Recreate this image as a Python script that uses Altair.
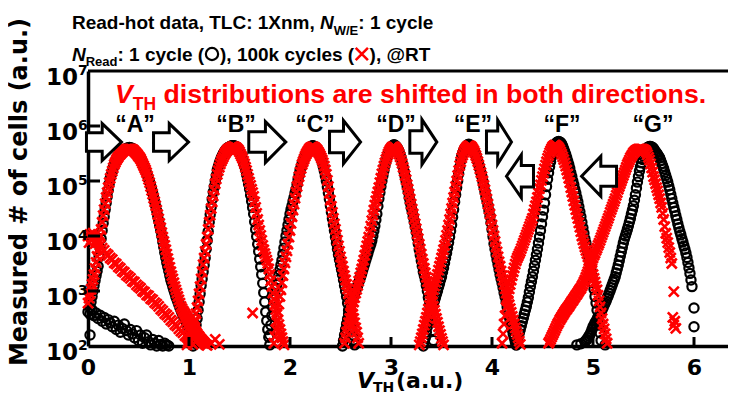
import altair as alt
import pandas as pd

# Each measured distribution: (start V, V step, log10(# of cells))

# ---------- N_Read = 1 cycle (black circles) ----------
blk_er = (0.00, 0.02, [2.62, 2.58, 2.66, 2.55, 2.60, 2.50, 2.56, 2.45, 2.52, 2.40, 2.48, 2.42, 2.35,
                       2.45, 2.30, 2.38, 2.25, 2.32, 2.40, 2.28, 2.20, 2.30, 2.22, 2.15, 2.28, 2.10,
                       2.20, 2.05, 2.15, 2.20, 2.08, 2.02, 2.12, 2.05, 2.00, 2.10, 2.03, 2.00, 2.05,
                       2.02, 2.00])
blk_a = (0.02, 0.01, [2.70, 2.80, 2.90, 3.00, 3.10, 3.19, 3.28, 3.36, 3.45, 3.62,
                      3.78, 3.95, 4.10, 4.23, 4.35, 4.48, 4.60, 4.72, 4.83, 4.95,
                      5.05, 5.11, 5.17, 5.24, 5.30, 5.34, 5.38, 5.42, 5.45, 5.48,
                      5.50, 5.52, 5.54, 5.56, 5.57, 5.58, 5.59, 5.60, 5.60, 5.61,
                      5.60, 5.60, 5.59, 5.58, 5.56, 5.54, 5.52, 5.50, 5.47, 5.45,
                      5.42, 5.38, 5.33, 5.29, 5.24, 5.19, 5.14, 5.09, 5.03, 4.98,
                      4.92, 4.85, 4.78, 4.70, 4.62, 4.54, 4.46, 4.37, 4.28, 4.19,
                      4.10, 4.00, 3.90, 3.80, 3.70, 3.61, 3.52, 3.44, 3.36, 3.28,
                      3.20, 3.14, 3.08, 3.02, 2.96, 2.90, 2.85, 2.80, 2.75, 2.70,
                      2.65, 2.61, 2.57, 2.53, 2.49, 2.45, 2.40, 2.35, 2.30, 2.25,
                      2.20, 2.16, 2.12, 2.08, 2.05])
blk_b = (1.04, 0.01, [2.00, 2.12, 2.25, 2.38, 2.50, 2.65, 2.80, 2.95, 3.10, 3.22,
                      3.35, 3.47, 3.60, 3.76, 3.92, 4.08, 4.25, 4.39, 4.53, 4.67,
                      4.80, 4.90, 5.00, 5.10, 5.20, 5.26, 5.32, 5.37, 5.42, 5.46,
                      5.50, 5.53, 5.56, 5.58, 5.60, 5.61, 5.62, 5.63, 5.64, 5.64,
                      5.64, 5.64, 5.63, 5.62, 5.60, 5.57, 5.53, 5.49, 5.45, 5.39,
                      5.33, 5.27, 5.20, 5.12, 5.03, 4.94, 4.85, 4.74, 4.63, 4.52,
                      4.40, 4.26, 4.12, 3.99, 3.85, 3.72, 3.58, 3.44, 3.30, 3.14,
                      2.97, 2.80, 2.62, 2.46, 2.30, 2.16, 2.02])
blk_c = (1.80, 0.01, [2.20, 2.38, 2.55, 2.70, 2.85, 2.95, 3.05, 3.12, 3.20, 3.29,
                      3.38, 3.47, 3.56, 3.67, 3.78, 3.89, 4.00, 4.10, 4.20, 4.30,
                      4.40, 4.48, 4.55, 4.63, 4.70, 4.78, 4.85, 4.94, 5.03, 5.12,
                      5.20, 5.26, 5.32, 5.37, 5.42, 5.46, 5.50, 5.54, 5.57, 5.59,
                      5.61, 5.63, 5.64, 5.64, 5.63, 5.62, 5.60, 5.57, 5.53, 5.49,
                      5.45, 5.39, 5.33, 5.26, 5.18, 5.09, 5.00, 4.89, 4.78, 4.67,
                      4.55, 4.43, 4.32, 4.21, 4.10, 3.98, 3.87, 3.76, 3.66, 3.57,
                      3.48, 3.39, 3.30, 3.20, 3.10, 3.00, 2.90, 2.78, 2.65, 2.53,
                      2.42, 2.31, 2.20, 2.11, 2.02])
blk_d = (2.52, 0.01, [2.00, 2.10, 2.20, 2.30, 2.40, 2.49, 2.58, 2.67, 2.75, 2.80,
                      2.85, 2.90, 2.95, 3.00, 3.05, 3.10, 3.15, 3.20, 3.26, 3.32,
                      3.38, 3.44, 3.50, 3.56, 3.62, 3.68, 3.74, 3.80, 3.85, 3.92,
                      4.00, 4.09, 4.18, 4.29, 4.40, 4.54, 4.68, 4.79, 4.90, 5.00,
                      5.10, 5.19, 5.28, 5.35, 5.42, 5.48, 5.53, 5.57, 5.61, 5.63,
                      5.65, 5.66, 5.65, 5.63, 5.61, 5.57, 5.53, 5.48, 5.42, 5.34,
                      5.26, 5.17, 5.08, 4.99, 4.90, 4.80, 4.70, 4.61, 4.52, 4.44,
                      4.35, 4.26, 4.17, 4.07, 3.97, 3.86, 3.75, 3.65, 3.55, 3.45,
                      3.35, 3.28, 3.20, 3.10, 3.00, 2.88, 2.75, 2.60, 2.45, 2.28,
                      2.10])
blk_e = (3.32, 0.01, [2.00, 2.07, 2.15, 2.25, 2.35, 2.43, 2.50, 2.56, 2.62, 2.69,
                      2.75, 2.82, 2.88, 2.94, 3.00, 3.07, 3.13, 3.20, 3.26, 3.34,
                      3.42, 3.51, 3.60, 3.69, 3.78, 3.88, 3.98, 4.09, 4.20, 4.34,
                      4.48, 4.62, 4.75, 4.88, 5.00, 5.13, 5.25, 5.36, 5.45, 5.51,
                      5.56, 5.59, 5.62, 5.64, 5.66, 5.67, 5.66, 5.64, 5.62, 5.59,
                      5.56, 5.52, 5.47, 5.41, 5.35, 5.29, 5.22, 5.15, 5.08, 4.99,
                      4.90, 4.81, 4.72, 4.64, 4.55, 4.46, 4.36, 4.24, 4.12, 3.99,
                      3.86, 3.76, 3.66, 3.57, 3.48, 3.39, 3.30, 3.22, 3.14, 3.06,
                      2.97, 2.89, 2.80, 2.71, 2.62, 2.53, 2.45, 2.37, 2.30, 2.22,
                      2.15, 2.08, 2.02])
blk_f = (4.24, 0.01, [2.02, 2.09, 2.16, 2.23, 2.30, 2.37, 2.44, 2.51, 2.58, 2.65,
                      2.72, 2.80, 2.88, 2.98, 3.08, 3.17, 3.26, 3.36, 3.46, 3.56,
                      3.66, 3.76, 3.87, 3.98, 4.10, 4.22, 4.35, 4.47, 4.60, 4.75,
                      4.90, 5.03, 5.15, 5.26, 5.35, 5.44, 5.52, 5.58, 5.63, 5.67,
                      5.70, 5.71, 5.72, 5.71, 5.70, 5.67, 5.63, 5.58, 5.53, 5.48,
                      5.42, 5.36, 5.30, 5.23, 5.15, 5.08, 5.00, 4.93, 4.85, 4.78,
                      4.70, 4.62, 4.53, 4.44, 4.35, 4.25, 4.15, 4.05, 3.95, 3.87,
                      3.78, 3.69, 3.60, 3.49, 3.38, 3.27, 3.15, 3.03, 2.90, 2.78,
                      2.65, 2.52, 2.38, 2.24, 2.10])
blk_g = (4.92, 0.01, [2.08, 2.10, 2.12, 2.15, 2.18, 2.21, 2.25, 2.30, 2.35, 2.38,
                      2.42, 2.45, 2.48, 2.52, 2.55, 2.58, 2.62, 2.66, 2.70, 2.74,
                      2.78, 2.82, 2.87, 2.91, 2.96, 3.01, 3.06, 3.11, 3.16, 3.21,
                      3.26, 3.33, 3.40, 3.47, 3.55, 3.63, 3.71, 3.79, 3.87, 3.94,
                      4.00, 4.06, 4.12, 4.18, 4.25, 4.32, 4.40, 4.47, 4.55, 4.65,
                      4.75, 4.87, 4.98, 5.08, 5.18, 5.26, 5.33, 5.39, 5.45, 5.50,
                      5.55, 5.58, 5.61, 5.62, 5.63, 5.63, 5.62, 5.61, 5.59, 5.56,
                      5.53, 5.51, 5.48, 5.45, 5.42, 5.37, 5.32, 5.27, 5.22, 5.16,
                      5.10, 5.04, 4.98, 4.91, 4.84, 4.76, 4.68, 4.60, 4.52, 4.45,
                      4.37, 4.30, 4.22, 4.15, 4.08, 4.02, 3.95, 3.89, 3.82, 3.76,
                      3.69, 3.61, 3.52, 3.42, 3.32, 3.20, 3.08])
blk_extra_v = [0.02, 6.00, 6.00, 4.84, 4.88, 5.12]
blk_extra = [2.20, 2.69, 2.35, 2.02, 2.04, 2.02]

# ---------- N_Read = 100k cycles (red crosses) ----------
red_er = (0.00, 0.02, [4.00, 4.03, 3.97, 3.98, 3.92, 3.90, 3.83, 3.78, 3.74, 3.68, 3.65, 3.60, 3.57,
                       3.51, 3.49, 3.44, 3.41, 3.36, 3.34, 3.29, 3.26, 3.23, 3.18, 3.16, 3.11, 3.08,
                       3.05, 3.00, 2.98, 2.93, 2.91, 2.86, 2.84, 2.79, 2.76, 2.72, 2.67, 2.64, 2.59,
                       2.56, 2.52, 2.47, 2.44, 2.39, 2.36, 2.31, 2.27, 2.24, 2.19, 2.16, 2.11, 2.07,
                       2.03])
red_a = (0.00, 0.01, [2.78, 2.87, 2.95, 3.03, 3.12, 3.21, 3.30, 3.41, 3.52, 3.63,
                      3.75, 3.88, 4.00, 4.12, 4.25, 4.37, 4.48, 4.59, 4.70, 4.79,
                      4.88, 4.97, 5.05, 5.12, 5.18, 5.24, 5.30, 5.34, 5.38, 5.41,
                      5.44, 5.47, 5.49, 5.51, 5.53, 5.55, 5.56, 5.57, 5.58, 5.58,
                      5.58, 5.58, 5.58, 5.58, 5.57, 5.56, 5.54, 5.52, 5.50, 5.48,
                      5.45, 5.43, 5.40, 5.36, 5.32, 5.28, 5.24, 5.20, 5.15, 5.09,
                      5.03, 4.97, 4.90, 4.83, 4.76, 4.69, 4.62, 4.55, 4.47, 4.39,
                      4.31, 4.23, 4.15, 4.06, 3.98, 3.90, 3.83, 3.75, 3.67, 3.59,
                      3.51, 3.43, 3.35, 3.28, 3.22, 3.15, 3.08, 3.02, 2.96, 2.90,
                      2.84, 2.78, 2.72, 2.68, 2.64, 2.61, 2.58, 2.55, 2.52, 2.49,
                      2.46, 2.43, 2.40, 2.37, 2.34, 2.31, 2.28, 2.25, 2.22, 2.19,
                      2.17, 2.14, 2.12, 2.10, 2.08, 2.06, 2.04, 2.02, 2.01])
red_b = (0.98, 0.01, [2.02, 2.07, 2.12, 2.18, 2.24, 2.30, 2.36, 2.42, 2.48, 2.59,
                      2.70, 2.82, 2.95, 3.08, 3.22, 3.35, 3.48, 3.60, 3.72, 3.85,
                      3.98, 4.12, 4.25, 4.38, 4.50, 4.62, 4.73, 4.84, 4.95, 5.04,
                      5.12, 5.19, 5.25, 5.31, 5.36, 5.40, 5.44, 5.48, 5.51, 5.54,
                      5.56, 5.58, 5.59, 5.60, 5.61, 5.62, 5.62, 5.62, 5.61, 5.60,
                      5.58, 5.56, 5.53, 5.49, 5.45, 5.41, 5.36, 5.31, 5.25, 5.19,
                      5.12, 5.05, 4.98, 4.92, 4.85, 4.79, 4.72, 4.62, 4.52, 4.41,
                      4.30, 4.20, 4.10, 4.01, 3.92, 3.83, 3.75, 3.68, 3.62, 3.56,
                      3.50, 3.40, 3.30, 3.19, 3.08, 2.96, 2.85, 2.75, 2.66, 2.57,
                      2.48, 2.39, 2.30, 2.22, 2.15, 2.08, 2.02])
red_c = (1.84, 0.01, [2.05, 2.17, 2.30, 2.46, 2.62, 2.76, 2.90, 3.02, 3.15, 3.28,
                      3.40, 3.51, 3.62, 3.73, 3.85, 3.98, 4.10, 4.23, 4.35, 4.47,
                      4.58, 4.69, 4.80, 4.90, 5.00, 5.08, 5.16, 5.23, 5.30, 5.35,
                      5.40, 5.45, 5.49, 5.52, 5.55, 5.58, 5.60, 5.61, 5.62, 5.62,
                      5.61, 5.60, 5.58, 5.56, 5.53, 5.50, 5.46, 5.42, 5.38, 5.33,
                      5.27, 5.20, 5.12, 5.01, 4.90, 4.78, 4.65, 4.54, 4.43, 4.32,
                      4.22, 4.12, 4.02, 3.92, 3.82, 3.72, 3.62, 3.53, 3.45, 3.36,
                      3.28, 3.20, 3.12, 3.04, 2.95, 2.85, 2.75, 2.66, 2.58, 2.50,
                      2.42, 2.33, 2.25, 2.15, 2.05])
red_d = (2.54, 0.01, [2.05, 2.15, 2.25, 2.34, 2.42, 2.50, 2.58, 2.65, 2.72, 2.80,
                      2.88, 2.96, 3.03, 3.10, 3.18, 3.25, 3.33, 3.40, 3.48, 3.56,
                      3.65, 3.74, 3.82, 3.90, 3.98, 4.08, 4.18, 4.28, 4.38, 4.47,
                      4.56, 4.64, 4.72, 4.80, 4.88, 4.97, 5.05, 5.13, 5.20, 5.27,
                      5.33, 5.39, 5.44, 5.49, 5.53, 5.56, 5.59, 5.61, 5.62, 5.62,
                      5.61, 5.59, 5.56, 5.53, 5.49, 5.44, 5.38, 5.32, 5.25, 5.18,
                      5.10, 5.02, 4.93, 4.85, 4.76, 4.67, 4.58, 4.49, 4.40, 4.31,
                      4.22, 4.13, 4.04, 3.95, 3.85, 3.76, 3.67, 3.58, 3.50, 3.41,
                      3.33, 3.25, 3.17, 3.10, 3.02, 2.95, 2.88, 2.80, 2.72, 2.65,
                      2.58, 2.50, 2.43, 2.35, 2.28, 2.21, 2.14, 2.08, 2.02])
red_e = (3.28, 0.01, [2.02, 2.08, 2.15, 2.22, 2.30, 2.38, 2.45, 2.52, 2.60, 2.67,
                      2.74, 2.81, 2.88, 2.95, 3.02, 3.09, 3.16, 3.23, 3.30, 3.38,
                      3.45, 3.52, 3.60, 3.67, 3.75, 3.83, 3.92, 4.01, 4.10, 4.20,
                      4.30, 4.40, 4.50, 4.60, 4.70, 4.80, 4.90, 5.00, 5.10, 5.19,
                      5.28, 5.35, 5.42, 5.47, 5.52, 5.56, 5.59, 5.61, 5.63, 5.64,
                      5.64, 5.63, 5.61, 5.58, 5.55, 5.51, 5.46, 5.41, 5.35, 5.29,
                      5.22, 5.15, 5.08, 5.00, 4.92, 4.84, 4.75, 4.67, 4.58, 4.49,
                      4.40, 4.30, 4.20, 4.10, 4.00, 3.90, 3.80, 3.71, 3.62, 3.53,
                      3.45, 3.36, 3.28, 3.20, 3.12, 3.04, 2.96, 2.89, 2.82, 2.75,
                      2.68, 2.61, 2.54, 2.47, 2.40, 2.33, 2.27, 2.21, 2.15, 2.09,
                      2.03])
red_f = (4.10, 0.01, [2.05, 2.22, 2.40, 2.55, 2.70, 2.83, 2.95, 3.04, 3.12, 3.20,
                      3.28, 3.35, 3.42, 3.49, 3.55, 3.60, 3.64, 3.68, 3.72, 3.77,
                      3.82, 3.87, 3.92, 3.97, 4.02, 4.07, 4.12, 4.17, 4.22, 4.27,
                      4.32, 4.40, 4.48, 4.55, 4.62, 4.70, 4.78, 4.86, 4.93, 5.01,
                      5.08, 5.15, 5.22, 5.29, 5.35, 5.41, 5.46, 5.51, 5.55, 5.59,
                      5.62, 5.64, 5.65, 5.65, 5.64, 5.62, 5.60, 5.57, 5.53, 5.49,
                      5.44, 5.39, 5.33, 5.27, 5.20, 5.13, 5.05, 4.97, 4.88, 4.80,
                      4.72, 4.64, 4.56, 4.48, 4.40, 4.32, 4.24, 4.16, 4.08, 4.00,
                      3.93, 3.86, 3.80, 3.74, 3.68, 3.62, 3.56, 3.50, 3.44, 3.37,
                      3.30, 3.23, 3.16, 3.09, 3.02, 2.92, 2.82, 2.71, 2.60, 2.50,
                      2.40, 2.31, 2.22, 2.13, 2.05])
red_g = (4.56, 0.01, [2.05, 2.08, 2.12, 2.16, 2.20, 2.24, 2.28, 2.32, 2.36, 2.40,
                      2.43, 2.47, 2.50, 2.53, 2.56, 2.59, 2.62, 2.65, 2.67, 2.70,
                      2.72, 2.75, 2.78, 2.81, 2.83, 2.86, 2.89, 2.92, 2.94, 2.97,
                      3.00, 3.03, 3.05, 3.09, 3.12, 3.16, 3.20, 3.25, 3.30, 3.35,
                      3.40, 3.45, 3.50, 3.55, 3.60, 3.65, 3.69, 3.74, 3.78, 3.83,
                      3.87, 3.92, 3.97, 4.02, 4.07, 4.12, 4.17, 4.22, 4.27, 4.32,
                      4.37, 4.43, 4.48, 4.53, 4.58, 4.63, 4.68, 4.74, 4.79, 4.85,
                      4.90, 4.95, 5.00, 5.05, 5.10, 5.15, 5.20, 5.25, 5.30, 5.34,
                      5.38, 5.42, 5.45, 5.48, 5.51, 5.53, 5.55, 5.56, 5.57, 5.58,
                      5.58, 5.58, 5.58, 5.58, 5.57, 5.56, 5.55, 5.52, 5.48, 5.43,
                      5.38, 5.31, 5.24, 5.16, 5.08, 5.02, 4.95, 4.88, 4.82, 4.75,
                      4.68, 4.60, 4.52, 4.41, 4.30, 4.17, 4.05, 3.96, 3.88, 3.79,
                      3.70, 3.60, 3.50])
red_extra_v = [0.01, 0.03, 0.05, 0.07, 0.09, 1.63, 1.22, 1.26, 1.30, 5.80, 5.79, 5.81, 5.80, 5.82]
red_extra = [3.88, 3.93, 4.05, 3.86, 3.95, 2.60, 2.05, 2.12, 2.03, 2.99, 2.52, 2.45, 2.38, 2.32]

# ---------- annotations ----------
state_labels = ["\u201cA\u201d", "\u201cB\u201d", "\u201cC\u201d", "\u201cD\u201d",
                "\u201cE\u201d", "\u201cF\u201d", "\u201cG\u201d"]
state_label_v = [0.465, 1.465, 2.248, 3.05, 3.81, 4.693, 5.594]
state_label_n = 7.8e5
arrow_ids = ["a1", "a2", "a3", "a4", "a5", "a6", "a7", "a8"]
arrow_v = [0.158, 0.822, 1.775, 2.545, 3.320, 4.069, 4.277, 5.060]
arrow_n = [5.1e5, 5.1e5, 5.1e5, 5.1e5, 5.1e5, 5.1e5, 1.22e5, 1.22e5]
arrow_w = [38, 38, 40, 34, 30, 28, 30, 38]
arrow_h = [40, 40, 44, 46, 48, 47, 46, 43]
arrow_left = [False, False, False, False, False, False, True, True]
y_exponents = [2, 3, 4, 5, 6, 7]
x_tick_values = [0, 1, 2, 3, 4, 5, 6]


def lobes_to_df(lobes, extra_v, extra_log):
    rows = []
    for v0, step, logs in lobes:
        for i, lg in enumerate(logs):
            rows.append({"v": round(v0 + i * step, 3), "n": 10 ** lg})
    for v, lg in zip(extra_v, extra_log):
        rows.append({"v": v, "n": 10 ** lg})
    return pd.DataFrame(rows)


df_black = lobes_to_df([blk_er, blk_a, blk_b, blk_c, blk_d, blk_e, blk_f, blk_g],
                       blk_extra_v, blk_extra)
df_red = lobes_to_df([red_er, red_a, red_b, red_c, red_d, red_e, red_f, red_g],
                     red_extra_v, red_extra)

W, H = 640, 275
XMAX = W / 101.0
xs = alt.Scale(domain=[0, XMAX], nice=False, zero=False)
ys = alt.Scale(type="log", domain=[100, 1e7], nice=False)
XPATH = "M -1 -1 L 1 1 M -1 1 L 1 -1"
SANS = "Liberation Sans"
WIDE = "DejaVu Sans"


def arrow_path(w, h, left):
    s = 22.0
    ww = (w - 3) / s
    hh = (h - 3) / s
    x0, x1 = -ww / 2, ww / 2
    xh = x0 + 0.45 * ww
    pts = [(x0, -hh / 4), (xh, -hh / 4), (xh, -hh / 2), (x1, 0), (xh, hh / 2), (xh, hh / 4), (x0, hh / 4)]
    if left:
        pts = [(-px, py) for px, py in pts]
    return "M " + " L ".join(f"{px:.3f} {py:.3f}" for px, py in pts) + " Z"


arrow_paths = [arrow_path(w, h, l) for w, h, l in zip(arrow_w, arrow_h, arrow_left)]

X_AX = alt.Axis(values=x_tick_values, format="d", labelFont=WIDE, labelFontWeight="bold",
                labelFontSize=22, labelColor="black", ticks=False, labelPadding=11,
                labelFlush=False, labelOverlap=False,
                domainColor="black", domainWidth=3.5, grid=False, title=None)
Y_AX = alt.Axis(labels=False, ticks=False, domainColor="black", domainWidth=3.5,
                grid=False, title=None)


def xenc():
    return alt.X("v:Q", scale=xs, axis=X_AX)


def yenc():
    return alt.Y("n:Q", scale=ys, axis=Y_AX)


black = alt.Chart(df_black).mark_point(
    shape="circle", filled=False, color="black", strokeWidth=2.2, size=85, opacity=1
).encode(x=xenc(), y=yenc())

red = alt.Chart(df_red).mark_point(
    shape=XPATH, filled=False, color="#ff0000", strokeWidth=2.6, size=100, opacity=1
).encode(x=xenc(), y=yenc())

xticks = alt.Chart(pd.DataFrame({"v": x_tick_values[1:]})).mark_rule(
    color="black", strokeWidth=3).encode(x=xenc(), y=alt.value(H), y2=alt.value(H - 9))
yticks = alt.Chart(pd.DataFrame({"n": [10.0 ** e for e in y_exponents[1:-1]]})).mark_rule(
    color="black", strokeWidth=3).encode(y=yenc(), x=alt.value(0), x2=alt.value(12))
top_line = alt.Chart(pd.DataFrame({"n": [1e7]})).mark_rule(
    color="black", strokeWidth=3).encode(y=yenc(), x=alt.value(0), x2=alt.value(W))

df_ylab = pd.DataFrame({"n": [10.0 ** e for e in y_exponents],
                        "base": ["10"] * len(y_exponents),
                        "sup": [str(e) for e in y_exponents]})
ylab_base = alt.Chart(df_ylab).mark_text(
    font=WIDE, fontWeight="bold", fontSize=23, align="right", baseline="middle", dy=7,
    color="black").encode(y=yenc(), x=alt.value(-10), text="base:N")
ylab_sup = alt.Chart(df_ylab).mark_text(
    font=WIDE, fontWeight="bold", fontSize=14, align="left", baseline="middle", dy=0,
    color="black").encode(y=yenc(), x=alt.value(-10), text="sup:N")

df_arrows = pd.DataFrame({"v": arrow_v, "n": arrow_n, "id": arrow_ids})
arrows = alt.Chart(df_arrows).mark_point(
    filled=True, fill="white", stroke="black", strokeWidth=3, size=1936, opacity=1
).encode(x=xenc(), y=yenc(),
         shape=alt.Shape("id:N", scale=alt.Scale(domain=arrow_ids, range=arrow_paths), legend=None))

df_states = pd.DataFrame({"v": state_label_v, "n": [state_label_n] * 7, "lab": state_labels})
states = alt.Chart(df_states).mark_text(
    font=SANS, fontWeight="bold", fontSize=23, align="center", baseline="alphabetic",
    color="black").encode(x=xenc(), y=yenc(), text="lab:N")

OX, OY = 88, 71  # page position of the plot origin


def seg(items, **style):
    df = pd.DataFrame({"px": [p[1] - OX for p in items], "py": [p[2] - OY for p in items],
                       "t": [p[0] for p in items]})
    base = dict(align="left", baseline="alphabetic")
    base.update(style)
    return alt.Chart(df).mark_text(**base).encode(
        x=alt.X("px:Q", scale=None), y=alt.Y("py:Q", scale=None), text="t:N")


title_main = seg([("Read-hot data, TLC: 1Xnm,", 72, 29), (": 1 cycle", 358.3, 29),
                  (": 1 cycle (", 117.5, 61), ("), 100k cycles (", 220, 61), ("), @RT", 369.6, 61)],
                 font=SANS, fontWeight="bold", fontSize=19, color="black")
title_ital = seg([("N", 320, 29), ("N", 72, 61)],
                 font=SANS, fontWeight="bold", fontStyle="italic", fontSize=19, color="black")
title_sub = seg([("W/E", 333.7, 35), ("Read", 85.7, 66)],
                font=SANS, fontWeight="bold", fontSize=13, color="black")
sym_circle = alt.Chart(pd.DataFrame({"px": [212 - OX], "py": [54 - OY]})).mark_point(
    shape="circle", filled=False, color="black", strokeWidth=2.2, size=150, opacity=1
).encode(x=alt.X("px:Q", scale=None), y=alt.Y("py:Q", scale=None))
sym_cross = alt.Chart(pd.DataFrame({"px": [361.8 - OX], "py": [54 - OY]})).mark_point(
    shape=XPATH, filled=False, color="#ff0000", strokeWidth=2.6, size=150, opacity=1
).encode(x=alt.X("px:Q", scale=None), y=alt.Y("py:Q", scale=None))

note_v = seg([("V", 115, 103)], font=SANS, fontWeight="bold", fontStyle="italic",
             fontSize=26.7, color="#ff0000")
note_sub = seg([("TH", 132.8, 110)], font=SANS, fontWeight="bold", fontSize=17.5, color="#ff0000")
note_rest = seg([("distributions are shifted in both directions.", 163.5, 103)],
                font=SANS, fontWeight="bold", fontSize=26.7, color="#ff0000")

xt_v = seg([("V", 357, 388)], font=WIDE, fontWeight="bold", fontStyle="italic", fontSize=22,
           color="black")
xt_sub = seg([("TH", 373, 392)], font=WIDE, fontWeight="bold", fontSize=14, color="black")
xt_rest = seg([("(a.u.)", 396, 388)], font=WIDE, fontWeight="bold", fontSize=22, color="black")
ytitle = alt.Chart(pd.DataFrame({"px": [20 - OX], "py": [192 - OY],
                                 "t": ["Measured # of cells (a.u.)"]})).mark_text(
    font=WIDE, fontWeight="bold", fontSize=24, angle=270, align="center",
    baseline="middle", color="black").encode(
    x=alt.X("px:Q", scale=None), y=alt.Y("py:Q", scale=None), text="t:N")

chart = alt.layer(
    black, red, xticks, yticks, top_line, arrows, states, ylab_base, ylab_sup,
    title_main, title_ital, title_sub, sym_circle, sym_cross,
    note_v, note_sub, note_rest, xt_v, xt_sub, xt_rest, ytitle
).properties(
    width=W, height=H,
    autosize=alt.AutoSizeParams(type="none"),
    padding={"left": 80, "top": 63, "right": 0, "bottom": 49},
    background="white",
).configure_view(stroke=None)

chart.save("out.html", embed_options={"renderer": "svg", "actions": False})
